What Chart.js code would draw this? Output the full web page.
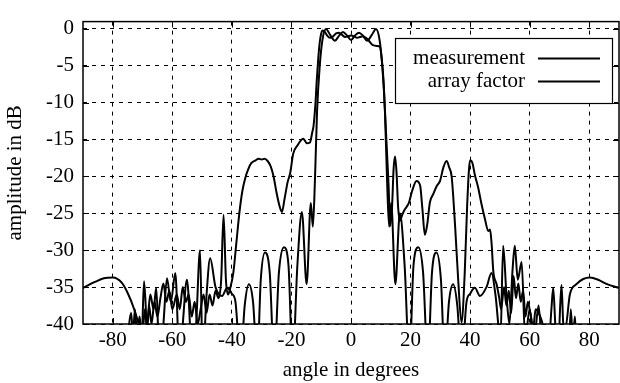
<!DOCTYPE html>
<html>
<head>
<meta charset="utf-8">
<script src="https://cdn.jsdelivr.net/npm/chart.js@4.4.1/dist/chart.umd.min.js"></script>
<style>
  html, body { margin: 0; padding: 0; background: #ffffff; }
  #wrap { width: 620px; height: 383px; position: relative; }
</style>
</head>
<body>
<div id="wrap"><canvas id="c" width="620" height="383"></canvas></div>
<script>
// ---- data ----
const xTicks = [-80, -60, -40, -20, 0, 20, 40, 60, 80];
const yTicks = [0, -5, -10, -15, -20, -25, -30, -35, -40];
const seriesNames = ["measurement", "array factor"];

const measAngle = [-90, -76, -73.8, -73.2, -72.6, -71.8, -71.0, -70.2, -69.2, -68.5, -67.8, -67.0, -66.0, -65.0, -64.0, -63.0,
  -62.0, -61.0, -60.0, -58.5, -57.5, -56.5, -55.5, -54.5, -53.5, -52.5, -51.5, -50.5, -49.5, -48.5, -47.5, -46.5, -45.5, -44.5,
  -43.6, -42.8, -42.0, -41.3, -40.6, -39.5, -38.5, -37.5, -36.5, -35.5, -34.5, -33.5, -32.0, -31.0, -30.0, -29.0, -28.0, -27.0,
  -26.0, -25.0, -24.0, -23.2, -22.3, -21.3, -20.4, -19.4, -18.0, -16.0, -14.8, -13.8, -13.0, -12.6, -12.0, -11.5, -11.0, -10.5,
  -10.0, -9.5, -8.8, -8.0, -7.0, -6.0, -5.0, -4.0, -3.0, -2.0, -1.0, 0, 1.0, 2.0, 3.0, 4.0, 5.0, 6.0, 7.4, 8.8, 9.7, 10.3,
  10.9, 11.4, 12.0, 12.6, 13.2, 13.8, 14.3, 14.8, 15.3, 15.8, 16.4, 17.2, 18.0, 18.7, 19.5, 20.5, 22.0, 23.2, 24.0, 24.8, 25.6,
  26.5, 27.6, 28.8, 29.9, 31.0, 32.1, 33.0, 33.8, 35.0, 36.0, 37.1, 38.2, 39.0, 40.0, 40.8, 41.6, 42.7, 43.8, 45.0, 46.1, 46.7,
  47.2, 47.8, 48.9, 49.8, 50.4, 51.4, 52.2, 53.0, 53.8, 54.6, 55.4, 56.2, 57.0, 57.8, 58.6, 59.4, 60.2, 61.2, 62.0, 63.0, 64.0,
  65.0, 66.0, 67.0, 68.0, 69.0, 70.0, 71.0, 72.0, 73.0, 73.8, 74.5, 75.2, 76.0, 90];
const measDb = [-45, -45, -38.5, -42.0, -38.0, -41.5, -39.0, -42.0, -38.0, -41.0, -37.5, -40.0, -37.0, -39.0, -36.5, -34.5,
  -37.0, -35.5, -38.0, -36.0, -38.0, -35.0, -37.0, -36.0, -39.0, -37.0, -40.0, -38.0, -36.0, -38.5, -36.0, -37.5, -35.5, -36.5,
  -34.0, -25.2, -34.0, -36.0, -35.2, -33.0, -29.0, -25.0, -22.0, -20.2, -19.0, -18.2, -17.8, -17.6, -17.7, -17.6, -17.9, -18.6,
  -20.0, -22.2, -24.0, -24.8, -23.0, -20.8, -19.5, -16.9, -15.8, -14.9, -15.5, -15.4, -14.0, -13.2, -10.5, -7.0, -4.0, -1.8,
  -0.6, -0.2, -0.4, -0.9, -1.2, -1.0, -0.6, -0.5, -0.8, -1.1, -1.0, -0.9, -1.0, -1.2, -1.1, -1.0, -1.2, -1.6, -2.2, -2.3, -2.4, -4.0,
  -6.8, -11.0, -16.0, -21.0, -26.7, -24.0, -19.0, -17.3, -19.5, -24.0, -26.0, -25.2, -24.5, -24.1, -23.5, -22.0, -20.6, -21.2, -24.5, -27.9, -26.5,
  -23.5, -22.4, -21.3, -20.6, -18.8, -17.9, -18.8, -20.0, -27.0, -34.0, -39.8, -33.0, -24.0, -17.8, -18.2, -19.8, -21.5, -23.7, -25.8, -27.4, -27.2,
  -29.0, -32.9, -34.6, -36.5, -38.0, -35.0, -37.5, -35.5, -38.5, -33.5, -36.5, -34.5, -37.0, -35.5, -39.0, -37.0, -38.5, -40.5, -38.0, -38.5, -39.5,
  -41.0, -42.0, -43.0, -44.0, -45.0, -45.0, -45.0, -45.0, -45.0, -38.0, -42.0, -39.0, -45.0, -45.0];

const afAngle = [-90, -86, -83, -80, -77, -75, -73, -71.0, -70.3, -69.5, -68.5, -67.4, -66.3, -65.4, -64.3, -63.0, -61.8,
  -60.5, -59.0, -57.6, -56.5, -55.1, -53.2, -52.0, -50.7, -49.8, -48.5, -47.3, -45.5, -43.3, -41.6, -40.0, -38.8, -37.1, -35.7,
  -34.3, -32.9, -31.5, -30.3, -28.9, -27.3, -25.8, -24.2, -22.5, -21.0, -19.6, -18.0, -16.5, -14.9, -13.5, -12.8, -12.1, -11.4,
  -10.5, -9.6, -8.4, -7.0, -5.4, -4.0, -2.7, -1.3, 0, 1.3, 2.7, 4.0, 5.4, 7.0, 8.4, 9.6, 10.5, 11.4, 12.1, 12.8, 13.5, 14.9,
  16.4, 18.0, 19.6, 21.0, 22.6, 24.2, 25.8, 27.2, 28.7, 30.2, 31.5, 32.9, 34.3, 35.7, 37.1, 38.8, 40.0, 41.6, 43.3, 45.5, 47.2,
  48.5, 50.2, 51.1, 52.2, 53.2, 54.2, 55.0, 56.0, 57.3, 58.5, 60.0, 61.5, 63.0, 64.5, 66.0, 67.3, 67.9, 68.6, 69.5, 70.2, 70.7,
  71.3, 72.0, 73.5, 75.7, 78.0, 80.2, 83.0, 86.0, 90];
const afDb = [-35.1, -34.3, -33.8, -33.7, -34.4, -35.8, -37.8, -40.5, -42.0, -34.2, -40.0, -36.0, -38.0, -35.1, -45.0, -40.0, -33.8,
  -37.0, -33.1, -45.0, -40.0, -34.0, -45.0, -40.0, -30.0, -45.0, -36.0, -31.1, -35.0, -36.2, -35.1, -35.9, -37.0, -45.0, -37.5,
  -34.6, -37.0, -45.0, -34.0, -30.3, -33.0, -45.0, -33.0, -29.6, -32.0, -45.0, -32.0, -24.8, -34.6, -23.6, -26.8, -20.4, -11.2,
  -5.0, -1.5, 0, -0.8, -1.6, -0.9, -0.4, -0.9, -1.5, -0.9, -0.5, -0.9, -1.6, -0.8, 0, -1.5, -5.0, -11.2, -20.4, -26.8, -23.6, -34.6,
  -25.0, -32.0, -45.0, -32.0, -29.6, -33.0, -45.0, -33.0, -30.3, -34.0, -45.0, -37.0, -34.6, -37.5, -45.0, -37.0, -35.9, -35.1, -36.2, -35.0, -33.1,
  -36.0, -42.0, -29.4, -36.0, -40.0, -33.0, -29.4, -34.0, -31.6, -42.0, -38.0, -42.0, -37.5, -45.0, -45.0, -38.0, -35.1, -40.0, -45.0, -38.0, -34.7,
  -40.0, -40.5, -36.0, -34.6, -33.9, -33.7, -34.0, -34.6, -35.1];

function toPoints(xs, ys) { return xs.map((x, i) => ({ x: x, y: ys[i] })); }

const FONT = "'Liberation Serif', 'Times New Roman', serif";
const FS = 21;

const frameAndTicks = {
  id: 'frameAndTicks',
  afterDatasetsDraw(chart) {
    const { ctx, chartArea: a, scales: { x, y } } = chart;
    ctx.save();
    ctx.strokeStyle = '#000';
    ctx.lineWidth = 1;
    ctx.beginPath();
    xTicks.forEach(v => {
      const px = Math.round(x.getPixelForValue(v)) + 0.5;
      ctx.moveTo(px, a.bottom); ctx.lineTo(px, a.bottom - 6);
      ctx.moveTo(px, a.top); ctx.lineTo(px, a.top + 6);
    });
    yTicks.forEach(v => {
      const py = Math.round(y.getPixelForValue(v)) + 0.5;
      ctx.moveTo(a.left, py); ctx.lineTo(a.left + 6, py);
      ctx.moveTo(a.right, py); ctx.lineTo(a.right - 6, py);
    });
    ctx.stroke();
    ctx.lineWidth = 1.5;
    ctx.strokeRect(a.left, a.top, a.right - a.left, a.bottom - a.top);
    // legend box
    const bx = 395, by = 38, bw = 217, bh = 65;
    ctx.fillStyle = '#fff';
    ctx.fillRect(bx, by, bw, bh);
    ctx.lineWidth = 1.2;
    ctx.strokeRect(bx + 0.5, by + 0.5, bw, bh);
    ctx.fillStyle = '#000';
    ctx.font = FS + "px " + FONT;
    ctx.textAlign = 'right';
    ctx.textBaseline = 'alphabetic';
    const rows = [58, 81];
    seriesNames.forEach((name, i) => {
      ctx.fillText(name, 525, rows[i] + 6);
      ctx.beginPath();
      ctx.lineWidth = 2;
      ctx.moveTo(538, rows[i] + 0.5);
      ctx.lineTo(600, rows[i] + 0.5);
      ctx.stroke();
    });
    ctx.restore();
  }
};

new Chart(document.getElementById('c'), {
  type: 'line',
  data: {
    datasets: [
      { label: seriesNames[0], data: toPoints(measAngle, measDb), borderColor: '#000', borderWidth: 2, pointRadius: 0, cubicInterpolationMode: 'monotone', fill: false },
      { label: seriesNames[1], data: toPoints(afAngle, afDb), borderColor: '#000', borderWidth: 2, pointRadius: 0, cubicInterpolationMode: 'monotone', fill: false }
    ]
  },
  options: {
    responsive: false,
    animation: false,
    devicePixelRatio: 1,
    layout: { padding: { top: 12, right: 1, left: 0, bottom: 0 } },
    plugins: { legend: { display: false }, tooltip: { enabled: false } },
    scales: {
      x: {
        type: 'linear', min: -90, max: 90,
        afterBuildTicks: s => { s.ticks = xTicks.map(v => ({ value: v })); },
        afterFit: s => { s.height = 59; },
        grid: { color: '#000', lineWidth: 1, drawTicks: false },
        border: { display: false, dash: [4, 5] },
        ticks: { color: '#000', font: { family: FONT, size: FS }, padding: 4, maxRotation: 0 },
        title: { display: true, text: 'angle in degrees', color: '#000', font: { family: FONT, size: FS }, padding: { top: 0, bottom: 0 } }
      },
      y: {
        type: 'linear', min: -40, max: 1,
        afterBuildTicks: s => { s.ticks = yTicks.map(v => ({ value: v })); },
        afterFit: s => { s.width = 83; },
        grid: { color: '#000', lineWidth: 1, drawTicks: false },
        border: { display: false, dash: [4, 5] },
        ticks: { color: '#000', font: { family: FONT, size: FS }, padding: 9 },
        title: { display: true, text: 'amplitude in dB', color: '#000', font: { family: FONT, size: FS }, padding: { top: 3, bottom: 0 } }
      }
    }
  },
  plugins: [frameAndTicks]
});
</script>
</body>
</html>
